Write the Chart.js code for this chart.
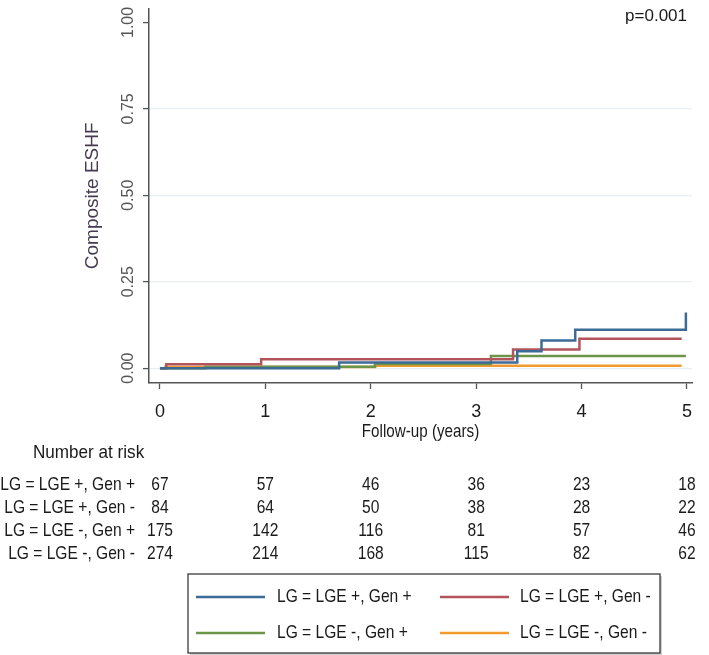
<!DOCTYPE html>
<html>
<head>
<meta charset="utf-8">
<script src="https://cdn.jsdelivr.net/npm/chart.js@4.4.1/dist/chart.umd.min.js"></script>
<style>
  html, body { margin: 0; padding: 0; background: #ffffff; }
  #wrap { position: relative; width: 709px; height: 655px; }
</style>
</head>
<body>
<div id="wrap"><canvas id="c" width="709" height="655"></canvas></div>
<script>
// ---- data ----
const seriesNames = ['LG = LGE +, Gen +', 'LG = LGE +, Gen -', 'LG = LGE -, Gen +', 'LG = LGE -, Gen -'];
const seriesColors = ['#3b6b96', '#b3545c', '#6b9549', '#f29a2e'];

const timesG1 = [0, 1.70, 3.39, 3.62, 3.94, 4.99];
const valsG1  = [0, 0.016, 0.049, 0.080, 0.111, 0.161];

const timesG2 = [0, 0.06, 0.96, 3.35, 3.98, 4.95];
const valsG2  = [0, 0.011, 0.026, 0.054, 0.085, 0.085];

const timesG3 = [0, 0.43, 2.04, 3.14, 4.99];
const valsG3  = [0, 0.004, 0.012, 0.035, 0.035];

const timesG4 = [0, 0.05, 2.04, 4.95];
const valsG4  = [0, 0.003, 0.007, 0.007];

const xTicks = [0, 1, 2, 3, 4, 5];
const yTicks = [0, 0.25, 0.5, 0.75, 1];

const riskTimes = [0, 1, 2, 3, 4, 5];
const riskG1 = [67, 57, 46, 36, 23, 18];
const riskG2 = [84, 64, 50, 38, 28, 22];
const riskG3 = [175, 142, 116, 81, 57, 46];
const riskG4 = [274, 214, 168, 115, 82, 62];

const pValueText = 'p=0.001';
const xTitle = 'Follow-up (years)';
const yTitle = 'Composite ESHF';
const riskTitle = 'Number at risk';

// ---- build ----
const REG = '"Liberation Sans", Arial, sans-serif';

function pts(ts, vs) { return ts.map((t, i) => ({ x: t, y: vs[i] })); }
const allTimes = [timesG1, timesG2, timesG3, timesG4];
const allVals = [valsG1, valsG2, valsG3, valsG4];
const allRisk = [riskG1, riskG2, riskG3, riskG4];

const datasets = seriesNames.map((n, i) => ({
  label: n,
  data: pts(allTimes[i], allVals[i]),
  borderColor: seriesColors[i],
  backgroundColor: seriesColors[i],
  borderWidth: 2.5,
  pointRadius: 0,
  stepped: true,
  fill: false,
  tension: 0
}));

function cText(ctx, text, x, y, align, sx) {
  ctx.save();
  ctx.translate(x, y);
  ctx.scale(sx, 1);
  ctx.textAlign = align;
  ctx.textBaseline = 'middle';
  ctx.fillText(text, 0, 0);
  ctx.restore();
}

const extras = {
  id: 'extras',
  afterDraw(chart) {
    const ctx = chart.ctx;
    const xs = chart.scales.x;
    ctx.save();
    // p-value
    ctx.fillStyle = '#1a1a1a';
    ctx.font = '17px ' + REG;
    cText(ctx, pValueText, 687, 16, 'right', 1);

    // x axis title
    ctx.font = '19px ' + REG;
    cText(ctx, xTitle, (xs.left + xs.right) / 2, 432, 'center', 0.8);

    // number at risk
    ctx.font = '19px ' + REG;
    cText(ctx, riskTitle, 33, 453, 'left', 0.9);
    const rowY = [485, 508, 531, 554];
    seriesNames.forEach((n, r) => {
      cText(ctx, n, 135, rowY[r], 'right', 0.82);
      allRisk[r].forEach((v, k) => {
        cText(ctx, String(v), xs.getPixelForValue(riskTimes[k]), rowY[r], 'center', 0.82);
      });
    });

    // legend box
    const bx = 188, by = 574, bw = 472, bh = 79;
    ctx.fillStyle = '#cfcfcf';
    ctx.fillRect(bx + 2, by + bh, bw, 2);
    ctx.fillRect(bx + bw, by + 2, 2, bh);
    ctx.fillStyle = '#ffffff';
    ctx.fillRect(bx, by, bw, bh);
    ctx.strokeStyle = '#3a3a3a';
    ctx.lineWidth = 1.3;
    ctx.strokeRect(bx, by, bw, bh);
    const legPos = [
      { lx: 196, tx: 277, y: 597 },
      { lx: 440, tx: 520, y: 597 },
      { lx: 196, tx: 277, y: 633 },
      { lx: 440, tx: 520, y: 633 }
    ];
    chart.data.datasets.forEach((d, i) => {
      const p = legPos[i];
      ctx.strokeStyle = d.borderColor;
      ctx.lineWidth = 2.4;
      ctx.beginPath();
      ctx.moveTo(p.lx, p.y);
      ctx.lineTo(p.lx + 69, p.y);
      ctx.stroke();
      ctx.fillStyle = '#1a1a1a';
      ctx.font = '19px ' + REG;
      cText(ctx, d.label, p.tx, p.y, 'left', 0.82);
    });
    ctx.restore();
  }
};

new Chart(document.getElementById('c'), {
  type: 'line',
  data: { datasets },
  options: {
    responsive: false,
    devicePixelRatio: 1,
    animation: false,
    events: [],
    layout: { padding: { left: 0, top: 4, right: 17, bottom: 212 } },
    plugins: { legend: { display: false }, tooltip: { enabled: false } },
    scales: {
      x: {
        type: 'linear',
        min: -0.104,
        max: 5.048,
        afterBuildTicks(s) { s.ticks = xTicks.map(v => ({ value: v })); },
        afterFit(s) { s.height = 60; },
        border: { display: true, color: '#555555', width: 1.5 },
        grid: { drawOnChartArea: false, drawTicks: true, tickLength: 6, tickColor: '#555555', tickWidth: 1.3 },
        ticks: {
          padding: 12,
          maxRotation: 0,
          minRotation: 0,
          color: '#1a1a1a',
          font: { family: REG, size: 18 },
          callback: v => String(v)
        },
        title: { display: false }
      },
      y: {
        type: 'linear',
        min: -0.043,
        max: 1.04,
        afterBuildTicks(s) { s.ticks = yTicks.map(v => ({ value: v })); },
        afterFit(s) { s.width = 149; },
        border: { display: true, color: '#555555', width: 1.5 },
        grid: {
          drawOnChartArea: true,
          drawTicks: true,
          tickLength: 6,
          tickColor: '#555555',
          tickWidth: 1.3,
          color: ctx => (ctx.tick && ctx.tick.value < 0.99) ? '#e6eff1' : 'rgba(0,0,0,0)',
          lineWidth: 1.2
        },
        ticks: {
          minRotation: 90,
          maxRotation: 90,
          crossAlign: 'center',
          padding: -1,
          color: '#555555',
          font: { family: REG, size: 16 },
          callback: v => Number(v).toFixed(2)
        },
        title: {
          display: true,
          text: yTitle,
          color: '#47394f',
          font: { family: REG, size: 19 },
          padding: { top: 81, bottom: 0 }
        }
      }
    }
  },
  plugins: [extras]
});
</script>
</body>
</html>
